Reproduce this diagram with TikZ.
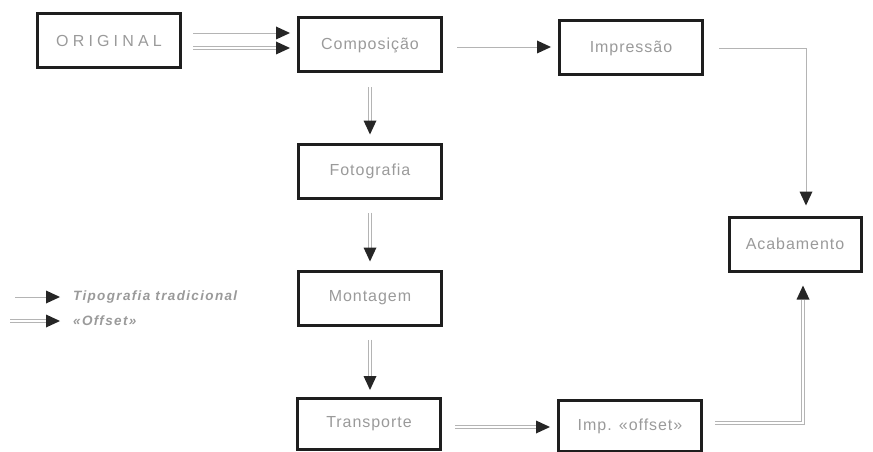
\documentclass[tikz,border=0pt]{standalone}
\usepackage{fontspec}
\setmainfont{Liberation Sans}
\usetikzlibrary{arrows.meta}
\definecolor{boxc}{HTML}{1E1E1E}
\definecolor{txtc}{HTML}{9A9A9A}
\definecolor{linec}{HTML}{B4B4B4}
\definecolor{tipc}{HTML}{262626}
\tikzset{
  stage/.style={draw=boxc, line width=3pt, minimum width=143pt, minimum height=54pt,
    inner sep=0pt, text=txtc, font=\fontsize{16}{18}\selectfont\addfontfeatures{LetterSpace=6}},
  tiptri/.style={-{Triangle[length=14pt,width=13pt,color=tipc,line width=0pt]}},
  trad/.style={draw=linec, line width=0.9pt, tiptri},
  offs/.style={draw=linec, line width=0.8pt, double=white, double distance=2.4pt, tiptri},
  legtxt/.style={text=txtc, anchor=west, inner sep=0pt,
    font=\fontsize{13.5}{15}\selectfont\itshape\bfseries\addfontfeatures{LetterSpace=10}}
}
\begin{document}
\begin{tikzpicture}[x=1pt,y=1pt]
\useasboundingbox (0,0) rectangle (873,-452);
% boxes
\node[stage] (orig) at (109,-41) {\addfontfeatures{LetterSpace=26}ORIGINAL};
\node[stage] (comp) at (370,-45) {Composição};
\node[stage] (impr) at (631,-48) {Impressão};
\node[stage] (foto) at (370,-171) {Fotografia};
\node[stage] (mont) at (370,-298) {Montagem};
\node[stage, minimum height=51pt] (trans) at (369,-424) {Transporte};
\node[stage, minimum height=51pt] (impoff) at (630,-426) {Imp. «offset»};
\node[stage, minimum width=132pt] (acab) at (795,-244) {Acabamento};
% connectors
\draw[trad, shorten <=11pt, shorten >=7pt] ([yshift=8pt]orig.east) -- ([yshift=12pt]comp.west);
\draw[offs, shorten <=11pt, shorten >=7pt] ([yshift=-7pt]orig.east) -- ([yshift=-3pt]comp.west);
\draw[trad, shorten <=14pt, shorten >=7pt] ([yshift=-2pt]comp.east) -- ([yshift=1pt]impr.west);
\draw[trad, shorten <=15pt, shorten >=10pt] (impr.east) -| ([xshift=11pt]acab.north);
\draw[offs, shorten <=14pt, shorten >=8pt] (comp.south) -- (foto.north);
\draw[offs, shorten <=13pt, shorten >=8pt] (foto.south) -- (mont.north);
\draw[offs, shorten <=13pt, shorten >=7pt] (mont.south) -- ([xshift=1pt]trans.north);
\draw[offs, shorten <=13pt, shorten >=7pt] ([yshift=-3pt]trans.east) -- ([yshift=-1pt]impoff.west);
\draw[offs, shorten <=12pt, shorten >=13pt] ([yshift=3pt]impoff.east) -| ([xshift=8pt]acab.south);
% legend
\node[legtxt] (l1) at (73,-297) {Tipografia tradicional};
\node[legtxt] (l2) at (73,-321) {«Offset»};
\coordinate (l1s) at (15,-297);
\coordinate (l2s) at (10,-321);
\draw[trad, shorten >=13pt] (l1s) -- (l1.west);
\draw[offs, shorten >=13pt] (l2s) -- (l2.west);
\end{tikzpicture}
\end{document}
